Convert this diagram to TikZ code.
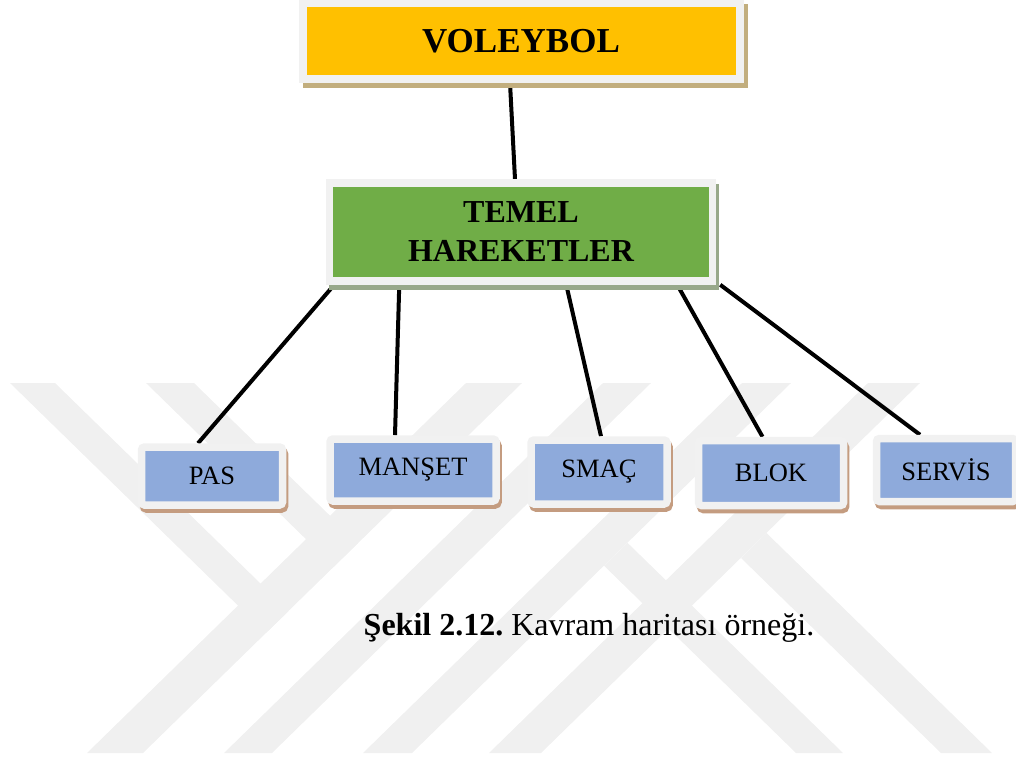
\documentclass[tikz,border=0pt]{standalone}
\usepackage{xcolor}
\usepackage{fontspec}
\setmainfont{Liberation Serif}
\usepackage{tikz}
\usetikzlibrary{positioning, calc, shadows}

\definecolor{voleyfill}{HTML}{FFC000}
\definecolor{voleyshade}{HTML}{C2AE7E}
\definecolor{temelfill}{HTML}{70AD47}
\definecolor{temelshade}{HTML}{98A88A}
\definecolor{harekfill}{HTML}{8EAADB}
\definecolor{harekshade}{HTML}{C49C80}
\definecolor{framegray}{HTML}{F1F1F1}
\definecolor{wmgray}{HTML}{F0F0F0}

\pgfdeclarelayer{watermark}
\pgfdeclarelayer{background}
\pgfsetlayers{watermark,background,main}

\frenchspacing

\begin{document}
\begin{tikzpicture}[
    x=1pt, y=-1pt,
    voleybox/.style={rectangle, draw=framegray, line width=8pt, fill=voleyfill, inner sep=0pt, align=center,
        general shadow={draw=voleyshade, fill=voleyshade, line width=8pt, shadow xshift=4pt, shadow yshift=-5pt},
        font=\fontsize{35}{42}\selectfont\bfseries},
    temelbox/.style={rectangle, draw=framegray, line width=7.5pt, fill=temelfill, inner sep=0pt, align=center,
        general shadow={draw=temelshade, fill=temelshade, line width=7.5pt, shadow xshift=3pt, shadow yshift=-5pt},
        font=\fontsize{32}{39}\selectfont\bfseries},
    harekbox/.style={rectangle, rounded corners=3pt, draw=framegray, line width=7.5pt, fill=harekfill, inner sep=0pt, align=center,
        general shadow={draw=harekshade, fill=harekshade, line width=7.5pt, shadow xshift=2pt, shadow yshift=-4pt},
        font=\fontsize{26.5}{31}\selectfont},
    link/.style={line width=4pt, black},
    wm/.style={fill=wmgray},
    caption_style/.style={anchor=base, font=\fontsize{32}{38}\selectfont}
]
    \useasboundingbox (0,0) rectangle (1016,756);

    % Kök kavram
    \node[voleybox, minimum width=437pt, minimum height=76pt] (voleybol) at (521,41) {VOLEYBOL};

    % Ara kavram
    \node[temelbox, minimum width=383pt, minimum height=98pt] (temel) at (521,232) {TEMEL \\ HAREKETLER};

    % Alt kavramlar
    \node[harekbox, minimum width=141pt, minimum height=58pt] (pas) at (212,476) {PAS};
    \node[harekbox, minimum width=166pt, minimum height=62pt] (manset) at (413,470) {MANŞET};
    \node[harekbox, minimum width=136pt, minimum height=64pt] (smac) at (599,472) {SMAÇ};
    \node[harekbox, minimum width=145pt, minimum height=65pt] (blok) at (771,473) {BLOK};
    \node[harekbox, minimum width=139pt, minimum height=63pt] (servis) at (946,470) {SERVİS};

    % Bağlantılar
    \begin{pgfonlayer}{background}
        \draw[link] ([xshift=-11pt]voleybol.south) -- ([xshift=-6pt]temel.north);
        \draw[link] ([xshift=8.5pt]temel.south west) -- ([xshift=-14pt]pas.north);
        \draw[link] ([xshift=73.5pt]temel.south west) -- ([xshift=-18pt]manset.north);
        \draw[link] ([xshift=240.5pt]temel.south west) -- ([xshift=2pt]smac.north);
        \draw[link] ([xshift=351.5pt]temel.south west) -- ([xshift=-8.5pt]blok.north);
        \draw[link] ([xshift=4pt]temel.south east) -- ([xshift=-26pt]servis.north);
    \end{pgfonlayer}

    % Şekil yazısı
    \node[caption_style] (sekil) at (589,635) {\textbf{Şekil 2.12.} Kavram haritası örneği.};

    % Arka plan filigranı
    \begin{pgfonlayer}{watermark}
        \foreach \xb/\w in {87/56, 224/48, 363/49, 489/52}
            \fill[wm] (\xb,753) -- ++(\w,0) -- ++(379,-370) -- ++(-\w,0) -- cycle;
        \fill[wm] (10,383) -- (55,383) -- (288.7,611) -- (266,632.9) -- cycle;
        \fill[wm] (146,383) -- (194,383) -- (358,543) -- (334,566.5) -- cycle;
        \fill[wm] (796,753) -- (843,753) -- (627.5,542.8) -- (604,565.7) -- cycle;
        \fill[wm] (941,753) -- (992,753) -- (766.5,533) -- (741,558) -- cycle;
    \end{pgfonlayer}
\end{tikzpicture}
\end{document}
